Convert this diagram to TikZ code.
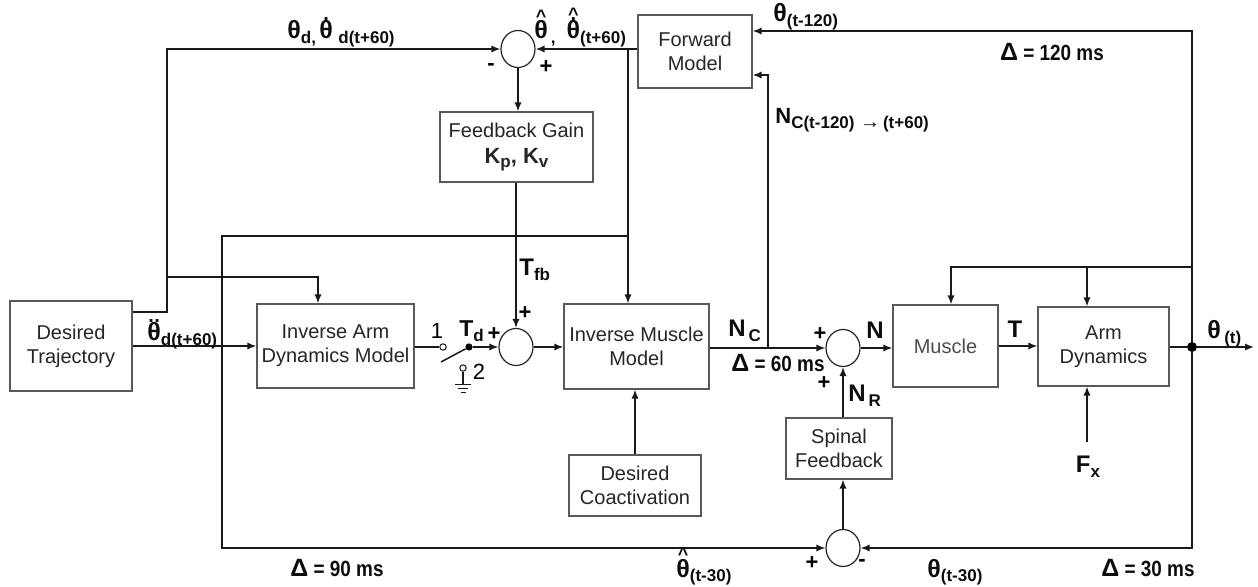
\documentclass[tikz,border=0pt]{standalone}
\usepackage{fontspec}
\setmainfont{Liberation Sans}
\newfontfamily\cond[FakeStretch=0.86]{Liberation Sans}
\usetikzlibrary{arrows.meta,shapes.geometric}
\newcommand\Tb[1]{{\fontsize{12.5}{12.5}\selectfont\bfseries #1}}
\newcommand\Sb[1]{\raisebox{-0.4ex}{\fontsize{8.5}{8.5}\selectfont\bfseries #1}}
\newcommand\ovr[3]{{\setbox0\hbox{#1}\rlap{\hbox to\wd0{\hss\raisebox{#3}{#2}\hss}}\box0}}
\newcommand\dotc{{\fontsize{10}{10}\selectfont\bfseries .}}
\newcommand\ddotc{{\fontsize{10}{10}\selectfont\bfseries .\kern0.3pt.}}
\newcommand\hatc{{\fontsize{9}{9}\selectfont\bfseries\textasciicircum}}
\newcommand\Dl[1]{{\fontsize{12.5}{12.5}\selectfont\bfseries Δ}{\cond\fontsize{11}{11}\selectfont\bfseries #1}}
\begin{document}
\begin{tikzpicture}[x=0.5pt,y=-0.5pt,
  box/.style={draw=black!65, line width=0.6pt, fill=white, align=center,
    font=\fontsize{10}{12}\selectfont, text=black!85, inner sep=0pt},
  sumj/.style={draw=black!85, ellipse, line width=0.6pt, minimum width=17pt,
    minimum height=18.5pt, inner sep=0pt},
  conn/.style={line width=0.75pt, draw=black!90},
  arr/.style={conn, -{Latex[length=4.5pt,width=3.6pt]}},
  lbl/.style={font=\bfseries, inner sep=0pt, text=black!95},
  sgn/.style={font=\fontsize{11}{11}\selectfont\bfseries, inner sep=0pt},
  num/.style={font=\fontsize{11}{11}\selectfont, inner sep=0pt},
  term/.style={circle, draw=black!90, line width=0.5pt, fill=white, minimum size=3.2pt, inner sep=0pt},
  dotn/.style={circle, fill=black, minimum size=3.6pt, inner sep=0pt},
  bigdot/.style={circle, fill=black, minimum size=5pt, inner sep=0pt}]
\useasboundingbox (0,0) rectangle (1258,587);
% boxes
\node[box, minimum width=61pt, minimum height=45pt] (DT) at (71,346) {Desired\\Trajectory};
\node[box, minimum width=78.5pt, minimum height=42pt] (IAD) at (335.5,346) {Inverse Arm\\Dynamics Model};
\node[box, minimum width=76.5pt, minimum height=35pt] (FG) at (516.5,147) {Feedback Gain\\[1pt]{\fontsize{11}{11}\selectfont\bfseries K\Sb{p}, K\Sb{v}}};
\node[box, minimum width=57pt, minimum height=36.5pt] (FM) at (695,51.5) {Forward\\Model};
\node[box, minimum width=72.5pt, minimum height=42.5pt] (IMM) at (636.5,346.5) {Inverse Muscle\\Model};
\node[box, minimum width=66pt, minimum height=30.5pt] (DC) at (635,485.5) {Desired\\Coactivation};
\node[box, minimum width=53pt, minimum height=30.5pt] (SF) at (839,448.5) {Spinal\\Feedback};
\node[box, minimum width=52.5pt, minimum height=41pt, text=black!70] (Mus) at (945.5,346) {Muscle};
\node[box, minimum width=65.5pt, minimum height=39.5pt] (AD) at (1103.5,346.5) {Arm\\Dynamics};
% summing junctions
\node[sumj] (J1) at (518,49) {};
\node[sumj] (J2) at (516,347) {};
\node[sumj] (J3) at (843,348) {};
\node[sumj] (J4) at (843,548) {};
% desired trajectory outputs
\draw[arr] (DT.east) -- (IAD.west);
\coordinate (c1) at (167,312);
\draw[arr] (DT.east |- c1) -- (c1) |- (J1.west);
\coordinate (c2a) at (167,277);
\coordinate (c2b) at (318,277);
\draw[arr] (c2a) -- (c2b) -- (c2b |- IAD.north);
% forward model to top junction
\draw[arr] (FM.west |- J1) -- (J1.east);
\draw[arr] (J1.south) -- (J1.south |- FG.north);
\draw[arr] (FG.south -| J2) -- (J2.north);
\coordinate (b1) at (628,49);
\draw[arr] (b1) -- (b1 |- IMM.north);
\coordinate (b2) at (628,236);
\coordinate (b3) at (222,236);
\draw[arr] (b2) -- (b3) |- (J4.west);
% switch
\node[term] (t1) at (443,347) {};
\node[dotn] (sd) at (469,347) {};
\node[term] (t2) at (463,368) {};
\coordinate (bl) at (441,362);
\draw[conn] (IAD.east |- t1) -- (t1.west);
\draw[conn] (bl) -- (sd);
\draw[arr] (sd) -- (J2.west);
\draw[conn, line width=0.6pt] (t2.south) -- ++(0,13) coordinate (g);
\draw[conn, line width=0.6pt] (g) ++(-8,0) -- ++(16,0);
\draw[conn, line width=0.6pt] (g) ++(-5,4) -- ++(10,0);
\draw[conn, line width=0.6pt] (g) ++(-2.5,8) -- ++(5,0);
% main path
\draw[arr] (J2.east) -- (J2.east -| IMM.west);
\draw[arr] (IMM.east |- J3) -- (J3.west);
\coordinate (b4) at (768,348);
\coordinate (b5) at (768,75);
\draw[arr] (b4) -- (b5) -- (b5 -| FM.east);
\draw[arr] (J3.east) -- (J3.east -| Mus.west);
\draw[arr] (SF.north -| J3) -- (J3.south);
\draw[arr] (J4.north) -- (J4.north |- SF.south);
\draw[arr] (DC.north) -- (DC.north |- IMM.south);
\draw[arr] (Mus.east) -- (Mus.east -| AD.west);
\node[bigdot] (out) at (1192,347) {};
\draw[conn] (AD.east |- out) -- (out);
\coordinate (o2) at (1254,347);
\draw[arr] (out) -- (o2);
\coordinate (r1) at (1192,31);
\draw[arr] (out) -- (r1) -- (r1 -| FM.east);
\coordinate (r2) at (1192,548);
\draw[arr] (out) -- (r2) -- (J4.east);
\coordinate (r3) at (1192,267);
\coordinate (r4) at (951,267);
\draw[arr] (r3) -- (r4) -- (r4 |- Mus.north);
\coordinate (r5) at (1087,267);
\draw[arr] (r5) -- (r5 |- AD.north);
\coordinate (fxs) at (1087,442);
\draw[arr] (fxs) -- (fxs |- AD.south);
% labels
\node[lbl, anchor=base west] (Lthd) at (287,39) {\Tb{θ}\Sb{d,}\,\ovr{\Tb{θ}}{\dotc}{9.3pt}\;\Sb{d(t+60)}};
\node[lbl, anchor=base west] (Lthh) at (534,39) {\ovr{\Tb{θ}}{\hatc}{8.2pt}\Sb{\,,}\;\;\ovr{\ovr{\Tb{θ}}{\dotc}{9pt}}{\hatc}{9.4pt}\Sb{(t+60)}};
\node[lbl, anchor=base west] (Lthdd) at (147,341) {\ovr{\Tb{θ}}{\ddotc}{9.3pt}\Sb{d(t+60)}};
\node[lbl, anchor=base west] (Lt120) at (773,22) {\Tb{θ}\Sb{(t-120)}};
\node[lbl] (D120) at (1052,52) {\Dl{ = 120 ms}};
\node[lbl, anchor=base west] (Lnc) at (775,124) {{\fontsize{11}{11}\selectfont N}\Sb{C(t-120)\,\,{\fontsize{10}{10}\selectfont →}\,(t+60)}};
\node[lbl, anchor=base west] (Ltfb) at (519,276) {{\fontsize{12}{12}\selectfont T}\Sb{fb}};
\node[sgn] (p1) at (525,313) {+};
\node[num] (n1) at (437,331) {1};
\node[num] (n2) at (479,372) {2};
\node[lbl, anchor=base west] (Ltd) at (459,337) {{\fontsize{11.5}{11.5}\selectfont T}\Sb{d}};
\node[sgn] (p2) at (494,334) {+};
\node[sgn] (m1) at (491,67) {-};
\node[sgn] (p3) at (546,67) {+};
\node[lbl, anchor=base west] (LNc) at (728,337) {{\fontsize{12}{12}\selectfont N}\Sb{\,C}};
\node[lbl] (D60) at (778,363) {\Dl{ = 60 ms}};
\node[sgn] (p4) at (820,334) {+};
\node[lbl] (LN) at (875,330) {\fontsize{12}{12}\selectfont N};
\node[sgn] (p5) at (824,383) {+};
\node[lbl, anchor=base west] (LNr) at (848,402) {{\fontsize{12}{12}\selectfont N}\Sb{\,R}};
\node[lbl] (LT) at (1015,329) {\fontsize{12}{12}\selectfont T};
\node[lbl, anchor=base west] (Lth) at (1207,339) {\Tb{θ}\,\Sb{(t)}};
\node[lbl, anchor=base] (LFx) at (1088,473) {{\fontsize{12}{12}\selectfont F}\Sb{x}};
\node[sgn] (p6) at (812,563) {+};
\node[sgn] (m2) at (862,563) {-};
\node[lbl, anchor=base west] (Lt30) at (927,577) {\Tb{θ}\Sb{(t-30)}};
\node[lbl] (D30) at (1148,568) {\Dl{ = 30 ms}};
\node[lbl] (D90) at (337,568) {\Dl{ = 90 ms}};
\node[lbl, anchor=base west] (Lth30) at (676,577) {\ovr{\Tb{θ}}{\hatc}{8.2pt}\Sb{(t-30)}};
\end{tikzpicture}
\end{document}
